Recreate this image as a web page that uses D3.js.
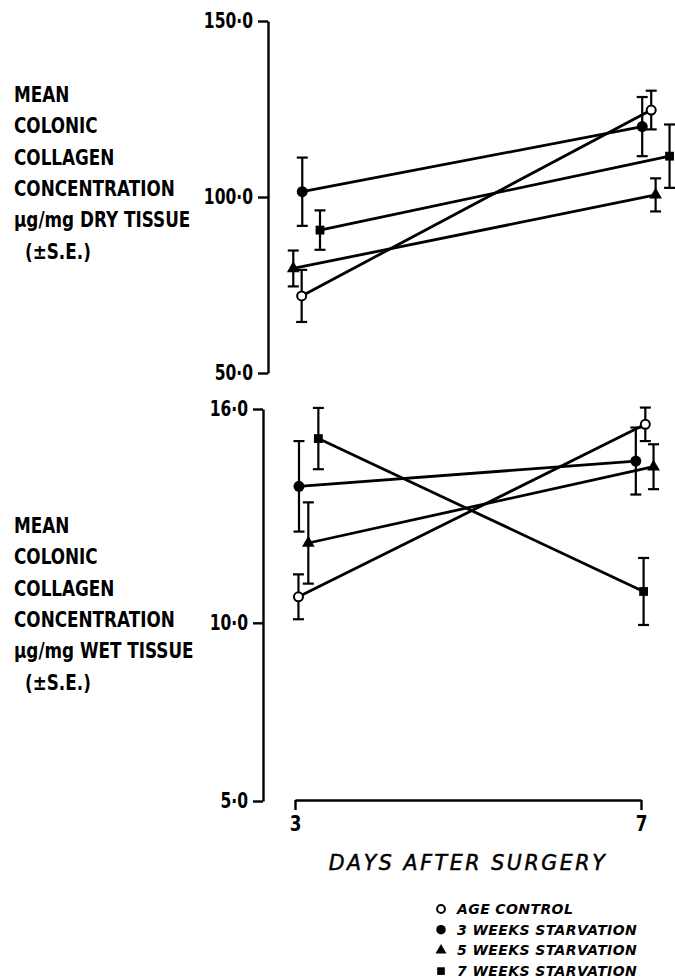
<!DOCTYPE html>
<html>
<head>
<meta charset="utf-8">
<title>Mean colonic collagen concentration</title>
<style>
  body { margin: 0; background: #fff; }
  svg { display: block; background: #fff; }
  .lab { font-family: 'DejaVu Sans', sans-serif; font-weight: bold; font-size: 20.5px; fill: #000; }
  .axis text { font-family: 'DejaVu Sans', sans-serif; font-weight: bold; font-size: 21px; fill: #000; }
  .axis path, .axis line { stroke: #000; stroke-width: 2.4px; fill: none; }
  .x-title { font-family: 'DejaVu Sans', sans-serif; font-style: oblique; font-size: 20.5px; letter-spacing: 2.6px; stroke: #000; stroke-width: 0.5px; }
  .legend text { font-family: 'DejaVu Sans', sans-serif; font-style: oblique; font-weight: bold; font-size: 14px; letter-spacing: 0.4px; }
  .series-line { fill: none; stroke: #000; stroke-width: 2.8px; }
  .err { stroke: #000; stroke-width: 2.2px; }
</style>
</head>
<body>
<svg width="675" height="979"></svg>
<script src="https://cdn.jsdelivr.net/npm/d3@7"></script>
<script>

// values
const days = [3, 7];
const groups = ['AGE CONTROL', '3 WEEKS STARVATION', '5 WEEKS STARVATION', '7 WEEKS STARVATION'];

// µg/mg dry tissue, mean and S.E. at day 3 and day 7
const dryMean = [[71.9, 124.7], [101.5, 120.0], [79.7, 100.6], [90.6, 111.6]];
const drySE   = [[7.4, 5.5], [9.7, 8.4], [5.1, 4.7], [5.6, 9.0]];

// µg/mg wet tissue
const wetMean = [[10.73, 15.57], [13.83, 14.54], [12.24, 14.38], [15.17, 10.88]];
const wetSE   = [[0.63, 0.47], [1.27, 0.94], [1.14, 0.63], [0.86, 0.94]];

const dryTicks = [50, 100, 150];
const wetTicks = [5, 10, 16];
const dryLabel = ['MEAN', 'COLONIC', 'COLLAGEN', 'CONCENTRATION', 'μg/mg DRY TISSUE', '(±S.E.)'];
const wetLabel = ['MEAN', 'COLONIC', 'COLLAGEN', 'CONCENTRATION', 'μg/mg WET TISSUE', '(±S.E.)'];

// points are drawn slightly apart in the original so the bars don't overlap (in days)
const dryShift = [[0.077, 0.118], [0.084, 0.014], [-0.02, 0.169], [0.289, 0.33]];
const wetShift = [[0.04, 0.05], [0.046, -0.06], [0.154, 0.145], [0.27, 0.03]];

let svg = d3.select('svg');

let x = d3.scaleLinear().domain([3, 7]).range([295, 641]);
let yDry = d3.scaleLinear().domain([50, 150]).range([373, 21]);
let yWet = d3.scaleLinear().domain([5, 16]).range([801, 409]);

let fmt = d => d.toFixed(1).replace('.', '·');

// squeeze text horizontally, the original lettering is condensed
function squeeze(sel, k) {
    sel.each(function () {
        let w = this.getComputedTextLength();
        d3.select(this).attr('textLength', w * k).attr('lengthAdjust', 'spacingAndGlyphs');
    });
}

let symbols = [
    { type: d3.symbolCircle, size: 64, fill: '#fff' },
    { type: d3.symbolCircle, size: 95, fill: '#000' },
    { type: d3.symbolTriangle, size: 70, fill: '#000' },
    { type: d3.symbolSquare, size: 78, fill: '#000' }
];

function panel(y, means, ses, shift, ticks, axisX, labels, labelTop) {
    let yAxis = svg.append('g')
        .attr('class', 'axis y')
        .attr('transform', `translate(${axisX},0)`)
        .call(d3.axisLeft(y).tickValues(ticks).tickSize(10).tickSizeOuter(0).tickPadding(5).tickFormat(fmt));
    yAxis.selectAll('text').call(squeeze, 0.74);

    let rows = groups.map((g, i) => days.map((d, j) => ({
        g: i,
        x: x(d + shift[i][j]),
        m: means[i][j],
        se: ses[i][j]
    })));

    let g = svg.append('g');

    // error bars
    rows.flat().forEach(p => {
        let y0 = y(p.m - p.se), y1 = y(p.m + p.se);
        g.append('line').attr('class', 'err').attr('x1', p.x).attr('x2', p.x).attr('y1', y0).attr('y2', y1);
        [y0, y1].forEach(v => g.append('line').attr('class', 'err')
            .attr('x1', p.x - 5.5).attr('x2', p.x + 5.5).attr('y1', v).attr('y2', v));
    });

    let line = d3.line().x(p => p.x).y(p => y(p.m));
    g.selectAll('path.series-line')
        .data(rows)
        .join('path')
        .attr('class', 'series-line')
        .attr('d', line);

    g.selectAll('path.pt')
        .data(rows.flat())
        .join('path')
        .attr('class', 'pt')
        .attr('transform', p => `translate(${p.x},${y(p.m)})`)
        .attr('d', p => d3.symbol().type(symbols[p.g].type).size(symbols[p.g].size)())
        .attr('fill', p => symbols[p.g].fill)
        .attr('stroke', '#000')
        .attr('stroke-width', p => p.g == 0 ? 2 : 0);

    let lab = svg.append('g').selectAll('text')
        .data(labels)
        .join('text')
        .attr('class', 'lab')
        .attr('x', (d, i) => i == labels.length - 1 ? 25 : 14)
        .attr('y', (d, i) => labelTop + i * 31.3)
        .text(d => d);
    lab.call(squeeze, 0.82);
}

panel(yDry, dryMean, drySE, dryShift, dryTicks, 268, dryLabel, 102);
panel(yWet, wetMean, wetSE, wetShift, wetTicks, 263, wetLabel, 533);

// x axis: bracket under the lower panel
let xAxis = svg.append('g')
    .attr('class', 'axis x')
    .attr('transform', 'translate(0,800)')
    .call(d3.axisBottom(x).tickValues(days).tickSize(10).tickSizeOuter(0).tickPadding(6).tickFormat(d3.format('d')));
xAxis.selectAll('text').attr('font-size', 22).call(squeeze, 0.8);

svg.append('text')
    .attr('class', 'x-title')
    .attr('x', 468)
    .attr('y', 870)
    .attr('text-anchor', 'middle')
    .text('DAYS AFTER SURGERY');

// legend
let legend = svg.append('g').attr('class', 'legend');
groups.forEach((name, i) => {
    let ly = 909 + i * 20.7;
    legend.append('path')
        .attr('transform', `translate(441,${ly})`)
        .attr('d', d3.symbol().type(symbols[i].type).size(symbols[i].size * 0.75)())
        .attr('fill', symbols[i].fill)
        .attr('stroke', '#000')
        .attr('stroke-width', i == 0 ? 2 : 0);
    legend.append('text')
        .attr('x', 457)
        .attr('y', ly + 5)
        .text(name);
});

</script>
</body>
</html>
